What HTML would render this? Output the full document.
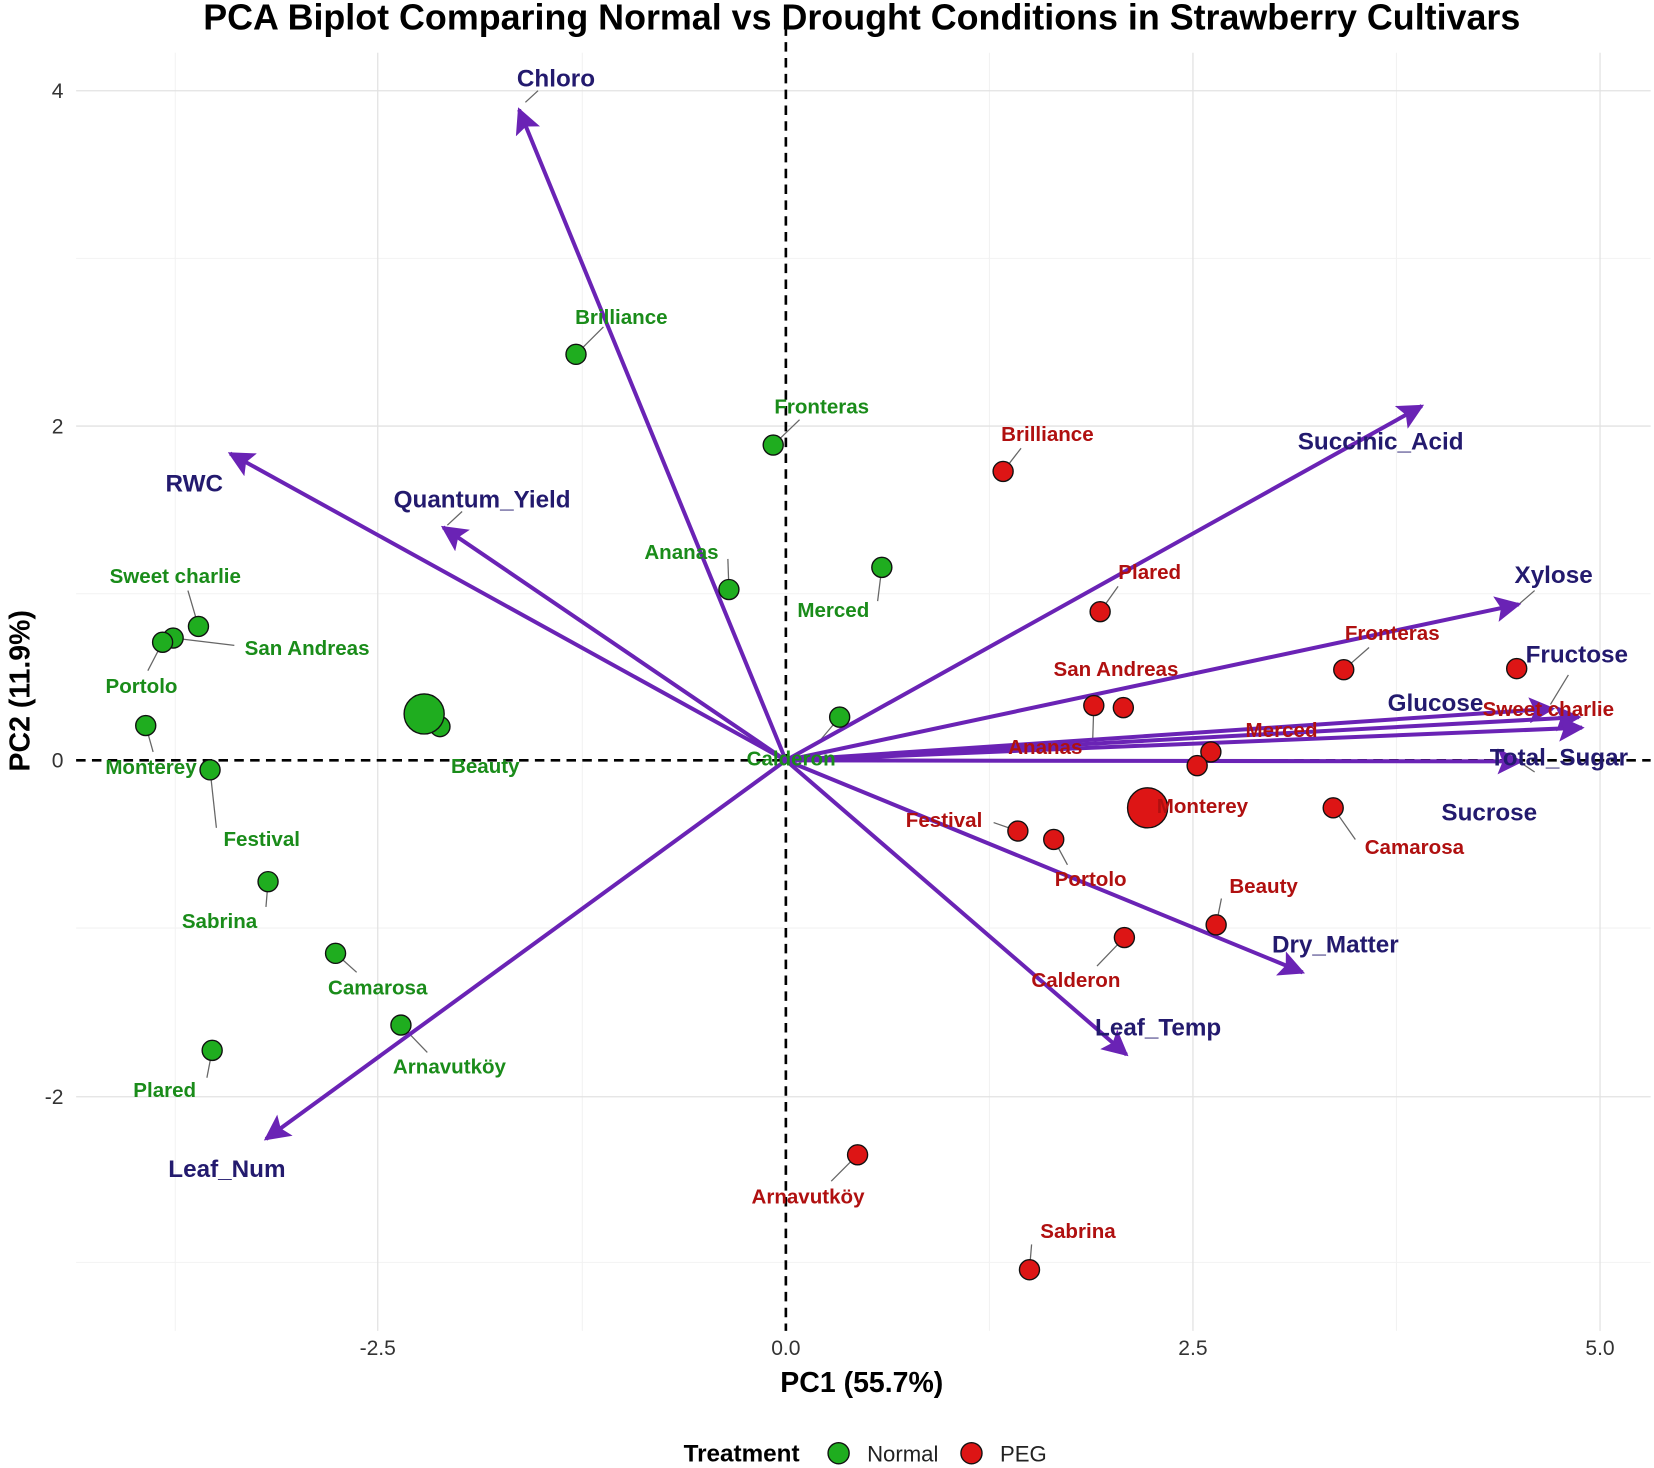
<!DOCTYPE html>
<html><head><meta charset="utf-8"><style>html,body{margin:0;padding:0;background:#fff}svg{display:block}</style></head>
<body>
<svg width="1654" height="1468" viewBox="0 0 1568 1392" xmlns="http://www.w3.org/2000/svg" font-family="Liberation Sans, Arial, sans-serif">
<rect width="1568" height="1392" fill="#fff"/>
<defs>
<marker id="ah" viewBox="0 0 10 10" refX="9" refY="5" markerWidth="6.5" markerHeight="6.5" orient="auto-start-reverse"><path d="M0,0 L10,5 L0,10 L2,5 z" fill="#6a23b5"/></marker>
</defs>
<g stroke="#f2f2f2" stroke-width="1">
<line x1="166" y1="50" x2="166" y2="1262"/><line x1="552" y1="50" x2="552" y2="1262"/><line x1="938" y1="50" x2="938" y2="1262"/><line x1="1324" y1="50" x2="1324" y2="1262"/>
<line x1="72" y1="245" x2="1565" y2="245"/><line x1="72" y1="563" x2="1565" y2="563"/><line x1="72" y1="880" x2="1565" y2="880"/><line x1="72" y1="1197" x2="1565" y2="1197"/>
</g>
<g stroke="#e2e2e2" stroke-width="1.2">
<line x1="358" y1="50" x2="358" y2="1262"/><line x1="1131" y1="50" x2="1131" y2="1262"/><line x1="1517" y1="50" x2="1517" y2="1262"/>
<line x1="72" y1="86" x2="1565" y2="86"/><line x1="72" y1="404" x2="1565" y2="404"/><line x1="72" y1="1040" x2="1565" y2="1040"/>
</g>
<g stroke="#000" stroke-width="2.5" stroke-dasharray="9,6">
<line x1="745" y1="10" x2="745" y2="1262"/><line x1="72" y1="721" x2="1565" y2="721"/>
</g>
<g font-size="20" fill="#333" text-anchor="end">
<text x="60" y="93">4</text><text x="60" y="411">2</text><text x="60" y="728">0</text><text x="60" y="1047">-2</text>
</g>
<g font-size="20" fill="#333" text-anchor="middle">
<text x="358" y="1285">-2.5</text><text x="745" y="1285">0.0</text><text x="1131" y="1285">2.5</text><text x="1517" y="1285">5.0</text>
</g>
<text x="817" y="28" font-size="34" font-weight="bold" text-anchor="middle">PCA Biplot Comparing Normal vs Drought Conditions in Strawberry Cultivars</text>
<text x="817" y="1320" font-size="27" font-weight="bold" text-anchor="middle">PC1 (55.7%)</text>
<text transform="translate(28,655) rotate(-90)" font-size="27" font-weight="bold" text-anchor="middle">PC2 (11.9%)</text>
<g stroke="#666" stroke-width="1.2" fill="none">
<path d="M546,336 L572,310"/><path d="M733,422 L758,398"/><path d="M691,559 L690,530"/><path d="M836,538 L832,570"/>
<path d="M188,594 L178,560"/><path d="M164,605 L222,612"/><path d="M154,609 L140,636"/><path d="M138,688 L145,713"/>
<path d="M199,730 L205,785"/><path d="M254,836 L252,860"/><path d="M318,904 L338,922"/><path d="M380,972 L405,998"/><path d="M201,996 L196,1022"/>
<path d="M951,447 L968,425"/><path d="M1043,580 L1060,556"/><path d="M1274,635 L1298,614"/><path d="M1037,669 L1036,700"/>
<path d="M1264,766 L1285,796"/><path d="M965,788 L942,780"/><path d="M999,796 L1012,820"/><path d="M1153,877 L1158,852"/><path d="M1066,889 L1040,916"/><path d="M813,1095 L788,1120"/><path d="M976,1204 L978,1180"/>
<path d="M498,97 L510,86"/><path d="M424,498 L438,485"/><path d="M1440,573 L1455,560"/><path d="M1470,668 L1487,640"/><path d="M1440,722 L1455,732"/><path d="M796,680 L775,705"/>
</g>
<g stroke="#6a23b5" stroke-width="3.8" marker-end="url(#ah)" fill="none">
<line x1="745" y1="721" x2="492" y2="104"/>
<line x1="745" y1="721" x2="218" y2="430"/>
<line x1="745" y1="721" x2="420" y2="500"/>
<line x1="745" y1="721" x2="252" y2="1080"/>
<line x1="745" y1="721" x2="1348" y2="385"/>
<line x1="745" y1="721" x2="1440" y2="573"/>
<line x1="745" y1="721" x2="1497" y2="680"/>
<line x1="745" y1="721" x2="1472" y2="672"/>
<line x1="745" y1="721" x2="1500" y2="690"/>
<line x1="745" y1="721" x2="1442" y2="722"/>
<line x1="745" y1="721" x2="1235" y2="922"/>
<line x1="745" y1="721" x2="1068" y2="1000"/>
</g>
<g font-size="23" font-weight="bold" fill="#231a6e" text-anchor="middle">
<text x="527" y="82">Chloro</text><text x="184" y="466">RWC</text><text x="457" y="481">Quantum_Yield</text><text x="215" y="1116">Leaf_Num</text>
<text x="1309" y="426">Succinic_Acid</text><text x="1473" y="553">Xylose</text><text x="1495" y="628">Fructose</text><text x="1361" y="674">Glucose</text>
<text x="1478" y="726">Total_Sugar</text><text x="1412" y="778">Sucrose</text><text x="1266" y="903">Dry_Matter</text><text x="1098" y="982">Leaf_Temp</text>
</g>
<g stroke="#111" stroke-width="1.3" fill="#1fad1f">
<circle cx="546" cy="336" r="9.5"/><circle cx="733" cy="422" r="9.5"/><circle cx="691" cy="559" r="9.5"/><circle cx="836" cy="538" r="9.5"/><circle cx="796" cy="680" r="9.5"/>
<circle cx="188" cy="594" r="9.5"/><circle cx="164" cy="605" r="9.5"/><circle cx="154" cy="609" r="9.5"/><circle cx="138" cy="688" r="9.5"/><circle cx="199" cy="730" r="9.5"/>
<circle cx="417" cy="689" r="9.5"/><circle cx="402" cy="677" r="19"/><circle cx="254" cy="836" r="9.5"/><circle cx="318" cy="904" r="9.5"/><circle cx="380" cy="972" r="9.5"/><circle cx="201" cy="996" r="9.5"/>
</g>
<g stroke="#111" stroke-width="1.3" fill="#dd1515">
<circle cx="951" cy="447" r="9.5"/><circle cx="1043" cy="580" r="9.5"/><circle cx="1274" cy="635" r="9.5"/><circle cx="1438" cy="634" r="9.5"/>
<circle cx="1037" cy="669" r="9.5"/><circle cx="1065" cy="671" r="9.5"/><circle cx="1148" cy="713" r="9.5"/><circle cx="1135" cy="726" r="9.5"/>
<circle cx="1088" cy="766" r="19"/><circle cx="1264" cy="766" r="9.5"/><circle cx="965" cy="788" r="9.5"/><circle cx="999" cy="796" r="9.5"/>
<circle cx="1153" cy="877" r="9.5"/><circle cx="1066" cy="889" r="9.5"/><circle cx="813" cy="1095" r="9.5"/><circle cx="976" cy="1204" r="9.5"/>
</g>
<g font-size="19.5" font-weight="bold" fill="#1a8c1a" text-anchor="middle">
<text x="589" y="307">Brilliance</text><text x="779" y="392">Fronteras</text><text x="646" y="530">Ananas</text><text x="790" y="585">Merced</text><text x="750" y="726">Calderon</text>
<text x="166" y="553">Sweet charlie</text><text x="291" y="621">San Andreas</text><text x="134" y="657">Portolo</text><text x="143" y="734">Monterey</text><text x="248" y="802">Festival</text>
<text x="460" y="733">Beauty</text><text x="208" y="880">Sabrina</text><text x="358" y="943">Camarosa</text><text x="426" y="1018">Arnavutköy</text><text x="156" y="1040">Plared</text>
</g>
<g font-size="19.5" font-weight="bold" fill="#b01010" text-anchor="middle">
<text x="993" y="418">Brilliance</text><text x="1090" y="549">Plared</text><text x="1320" y="607">Fronteras</text><text x="1468" y="679">Sweet charlie</text>
<text x="1058" y="641">San Andreas</text><text x="991" y="715">Ananas</text><text x="1215" y="699">Merced</text><text x="1140" y="771">Monterey</text>
<text x="1341" y="810">Camarosa</text><text x="895" y="784">Festival</text><text x="1034" y="840">Portolo</text><text x="1198" y="847">Beauty</text>
<text x="1020" y="936">Calderon</text><text x="766" y="1141">Arnavutköy</text><text x="1022" y="1174">Sabrina</text>
</g>
<text x="703" y="1386" font-size="23" font-weight="bold" text-anchor="middle">Treatment</text>
<circle cx="795" cy="1378" r="10" fill="#1fad1f" stroke="#111" stroke-width="1.3"/>
<text x="822" y="1386" font-size="21" fill="#222">Normal</text>
<circle cx="921" cy="1378" r="10" fill="#dd1515" stroke="#111" stroke-width="1.3"/>
<text x="948" y="1386" font-size="21" fill="#222">PEG</text>
</svg>
</body></html>
